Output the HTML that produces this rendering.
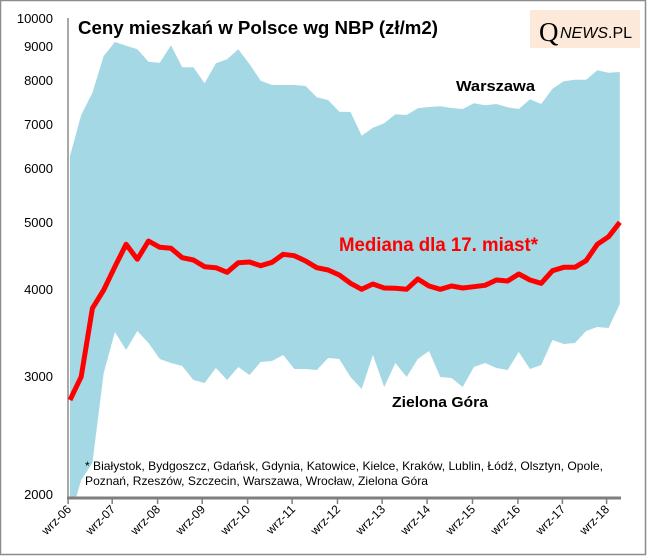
<!DOCTYPE html>
<html><head><meta charset="utf-8"><style>
html,body{margin:0;padding:0;background:#fff}
svg{display:block;font-family:"Liberation Sans",Arial,sans-serif}
</style></head><body>
<svg width="647" height="556" viewBox="0 0 647 556" xmlns="http://www.w3.org/2000/svg">
<rect x="0.5" y="0.5" width="645" height="554" fill="#fff" stroke="#8c8c8c" stroke-width="1.5"/>
<polygon fill="#a5d8e5" points="70,156 81.2,115 92.4,92.7 103.7,56 114.9,42 126.1,45.7 137.3,49.3 148.5,61.7 159.8,62.7 171,45.3 182.2,67.3 193.4,67.3 204.6,83.3 215.9,63.3 227.1,59.3 238.3,49.3 249.5,64 260.7,80.7 272,85 283.2,85 294.4,85 305.6,86 316.8,97.3 328.1,100 339.3,111.7 350.5,112 361.7,135.7 372.9,127.7 384.2,123.3 395.4,114.3 406.6,115 417.8,108.3 429,107 440.3,106.3 451.5,108 462.7,109 473.9,103.3 485.1,105.3 496.4,104 507.6,107.3 518.8,109 530,99.3 541.2,104 552.5,88.7 563.7,81.3 574.9,79.7 586.1,79.7 597.3,70.3 608.6,72.7 619.8,72 619.8,304 608.6,328 597.3,327 586.1,331 574.9,343 563.7,344 552.5,340 541.2,365 530,369 518.8,352 507.6,370 496.4,368 485.1,363 473.9,367 462.7,387 451.5,378 440.3,377 429,351 417.8,359 406.6,377 395.4,363 384.2,387 372.9,355 361.7,389 350.5,377 339.3,359 328.1,358 316.8,370 305.6,369 294.4,369 283.2,355 272,361 260.7,362 249.5,375 238.3,367 227.1,380 215.9,368 204.6,383 193.4,380 182.2,366 171,363 159.8,359 148.5,343 137.3,331 126.1,350 114.9,332 103.7,373 92.4,463 81.2,480 76,498 70,498"/>
<line x1="68" y1="18" x2="68" y2="498" stroke="#8c8c8c" stroke-width="1.5"/>
<line x1="67" y1="498" x2="621" y2="498" stroke="#7f7f7f" stroke-width="3"/>
<g stroke="#7f7f7f" stroke-width="1.5">
<line x1="68.1" y1="498" x2="68.1" y2="504"/><line x1="112.2" y1="498" x2="112.2" y2="504"/><line x1="157.6" y1="498" x2="157.6" y2="504"/><line x1="202.2" y1="498" x2="202.2" y2="504"/><line x1="247.6" y1="498" x2="247.6" y2="504"/><line x1="292.1" y1="498" x2="292.1" y2="504"/><line x1="337.5" y1="498" x2="337.5" y2="504"/><line x1="382.1" y1="498" x2="382.1" y2="504"/><line x1="427.1" y1="498" x2="427.1" y2="504"/><line x1="472.5" y1="498" x2="472.5" y2="504"/><line x1="517.9" y1="498" x2="517.9" y2="504"/><line x1="562.4" y1="498" x2="562.4" y2="504"/><line x1="606.6" y1="498" x2="606.6" y2="504"/>
</g>
<polyline fill="none" stroke="#ff0000" stroke-width="5" stroke-linejoin="round" points="70,400 81.2,376.7 92.4,308.3 103.7,290 114.9,266.7 126.1,244.3 137.3,259.3 148.5,241 159.8,247.3 171,248.3 182.2,257.7 193.4,260 204.6,266.7 215.9,267.7 227.1,272.3 238.3,262.7 249.5,262 260.7,265.7 272,262.3 283.2,254.3 294.4,255.7 305.6,261 316.8,267.7 328.1,270 339.3,275 350.5,283.3 361.7,289.3 372.9,284 384.2,288 395.4,288.3 406.6,289.3 417.8,279 429,286 440.3,289.3 451.5,286 462.7,288 473.9,286.7 485.1,285.3 496.4,280 507.6,281 518.8,274 530,280 541.2,283.3 552.5,270.7 563.7,267.3 574.9,267.3 586.1,260.7 597.3,244.3 608.6,236.7 619.8,222.3"/>
<g font-size="13" text-anchor="end" fill="#000">
<text x="53" y="23">10000</text><text x="53" y="51">9000</text><text x="53" y="85">8000</text><text x="53" y="129">7000</text><text x="53" y="173">6000</text><text x="53" y="227">5000</text><text x="53" y="294">4000</text><text x="53" y="381">3000</text><text x="53" y="499">2000</text>
</g>
<g font-size="12" text-anchor="end" fill="#000">
<text transform="translate(72,510) rotate(-45)">wrz-06</text><text transform="translate(116,510) rotate(-45)">wrz-07</text><text transform="translate(161,510) rotate(-45)">wrz-08</text><text transform="translate(206,510) rotate(-45)">wrz-09</text><text transform="translate(251,510) rotate(-45)">wrz-10</text><text transform="translate(296,510) rotate(-45)">wrz-11</text><text transform="translate(341,510) rotate(-45)">wrz-12</text><text transform="translate(386,510) rotate(-45)">wrz-13</text><text transform="translate(431,510) rotate(-45)">wrz-14</text><text transform="translate(476,510) rotate(-45)">wrz-15</text><text transform="translate(521,510) rotate(-45)">wrz-16</text><text transform="translate(566,510) rotate(-45)">wrz-17</text><text transform="translate(610,510) rotate(-45)">wrz-18</text>
</g>
<text x="78" y="34" font-size="18" font-weight="bold" textLength="360" lengthAdjust="spacingAndGlyphs">Ceny mieszkań w Polsce wg NBP (zł/m2)</text>
<rect x="530" y="10" width="110" height="38" fill="#fde9d9"/>
<text x="539" y="41" font-family="Liberation Serif,serif" font-size="27" fill="#000">Q</text>
<text x="560" y="38" font-size="16" font-style="italic" fill="#000">NEWS<tspan font-style="normal">.PL</tspan></text>
<text x="456" y="91" font-size="15" font-weight="bold" textLength="79" lengthAdjust="spacingAndGlyphs">Warszawa</text>
<text x="392" y="407" font-size="15" font-weight="bold" textLength="96" lengthAdjust="spacingAndGlyphs">Zielona Góra</text>
<text x="339" y="251" font-size="19" font-weight="bold" fill="#ff0000" textLength="199" lengthAdjust="spacingAndGlyphs">Mediana dla 17. miast*</text>
<text x="85" y="470" font-size="12" textLength="518" lengthAdjust="spacingAndGlyphs">* Białystok, Bydgoszcz, Gdańsk, Gdynia, Katowice, Kielce, Kraków, Lublin, Łódź, Olsztyn, Opole,</text>
<text x="85" y="485" font-size="12" textLength="343" lengthAdjust="spacingAndGlyphs">Poznań, Rzeszów, Szczecin, Warszawa, Wrocław, Zielona Góra</text>
</svg>
</body></html>
